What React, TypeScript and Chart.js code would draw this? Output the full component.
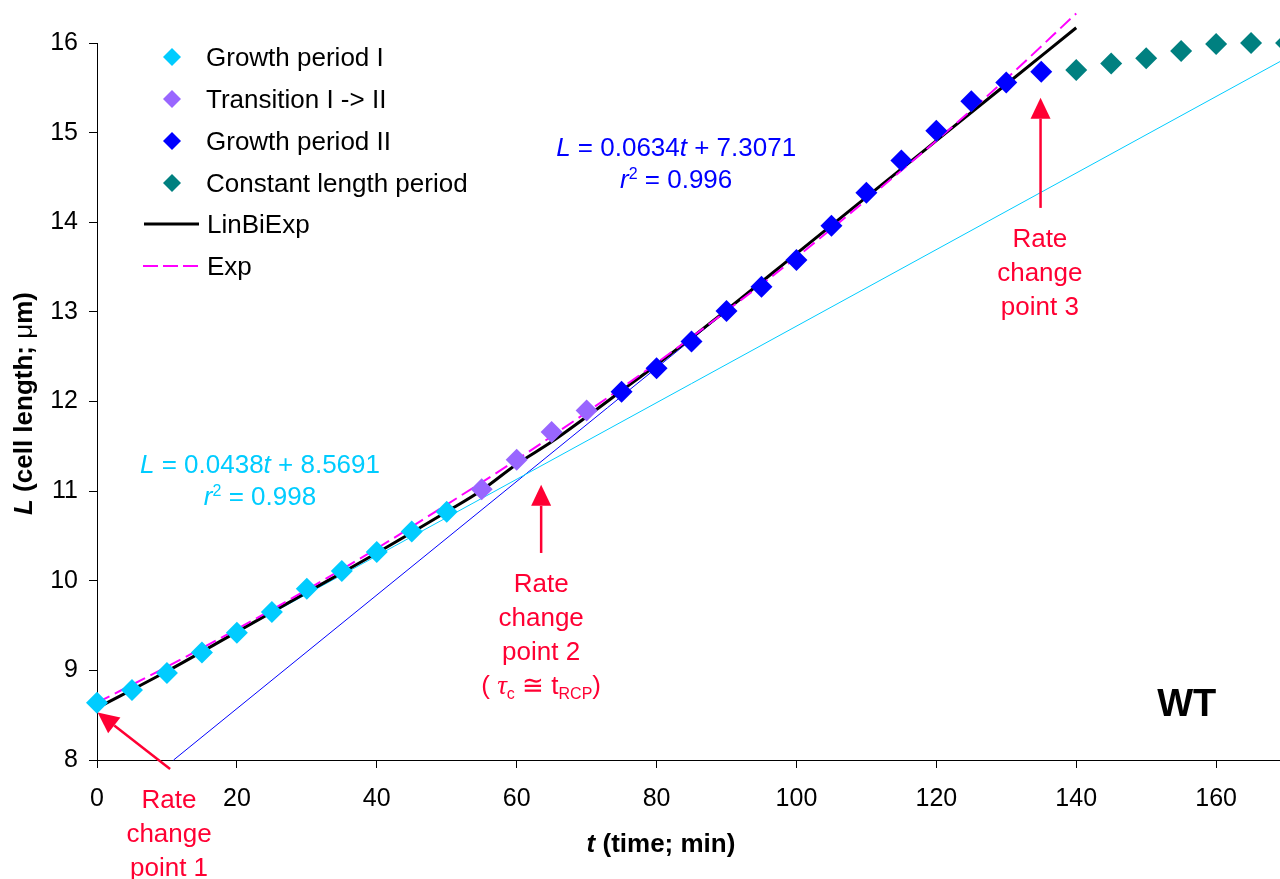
import React, { useEffect, useRef } from 'react';
import { Chart, registerables } from 'chart.js';

Chart.register(...registerables);

// ---- data ----
const growth1T = [0, 5, 10, 15, 20, 25, 30, 35, 40, 45, 50];
const growth1L = [8.64, 8.78, 8.97, 9.2, 9.42, 9.65, 9.91, 10.11, 10.32, 10.55, 10.77];
const transT = [55, 60, 65, 70];
const transL = [11.02, 11.35, 11.66, 11.9];
const growth2T = [75, 80, 85, 90, 95, 100, 105, 110, 115, 120, 125, 130, 135];
const growth2L = [12.11, 12.37, 12.67, 13.01, 13.28, 13.58, 13.96, 14.33, 14.69, 15.02, 15.35, 15.56, 15.68];
const constT = [140, 145, 150, 155, 160, 165, 170];
const constL = [15.7, 15.77, 15.83, 15.91, 15.99, 16.0, 16.0];

const linBiExpT = [0, 10, 20, 30, 40, 50, 55, 60, 65, 70, 75, 80, 90, 100, 110, 120, 130, 140];
const linBiExpL = [8.58, 8.99, 9.43, 9.87, 10.31, 10.77, 11.01, 11.3, 11.55, 11.83, 12.12, 12.41, 13.02, 13.65, 14.28, 14.91, 15.54, 16.17];
const expT = [0, 10, 20, 30, 40, 50, 60, 70, 80, 90, 100, 110, 120, 130, 140];
const expL = [8.64, 9.04, 9.46, 9.9, 10.36, 10.85, 11.35, 11.88, 12.43, 13.01, 13.61, 14.25, 14.91, 15.6, 16.33];

const trend1T = [0, 170];
const trend1L = [8.57, 15.83];
const trend2T = [10.95, 135];
const trend2L = [8.0, 15.86];

const xTicks = [0, 20, 40, 60, 80, 100, 120, 140, 160];
const seriesNames = ['Growth period I', 'Transition I -> II', 'Growth period II', 'Constant length period', 'LinBiExp', 'Exp'];

// ---- styles ----
const FONT = '"Liberation Sans", Arial, Helvetica, sans-serif';
const SERIF = '"Liberation Serif", "DejaVu Serif", serif';
const CYAN = '#00CCFF';
const PURPLE = '#9966FF';
const BLUE = '#0000FF';
const TEAL = '#008080';
const MAGENTA = '#FF00FF';
const RED = '#FF0033';

type Seg = { t: string; f: string; dy?: number };

function drawRich(ctx: CanvasRenderingContext2D, segs: Seg[], x: number, y: number, align: 'left' | 'center', color: string) {
  ctx.fillStyle = color;
  ctx.textBaseline = 'alphabetic';
  ctx.textAlign = 'left';
  let w = 0;
  for (const s of segs) {
    ctx.font = s.f;
    w += ctx.measureText(s.t).width;
  }
  let cx = align === 'center' ? x - w / 2 : x;
  for (const s of segs) {
    ctx.font = s.f;
    ctx.fillText(s.t, cx, y + (s.dy || 0));
    cx += ctx.measureText(s.t).width;
  }
}

function drawArrow(ctx: CanvasRenderingContext2D, x1: number, y1: number, x2: number, y2: number, color: string) {
  const ang = Math.atan2(y2 - y1, x2 - x1);
  const headLen = 21;
  const headW = 10;
  const bx = x2 - headLen * Math.cos(ang);
  const by = y2 - headLen * Math.sin(ang);
  ctx.strokeStyle = color;
  ctx.lineWidth = 2.5;
  ctx.beginPath();
  ctx.moveTo(x1, y1);
  ctx.lineTo(bx, by);
  ctx.stroke();
  ctx.fillStyle = color;
  ctx.beginPath();
  ctx.moveTo(x2, y2);
  ctx.lineTo(bx + headW * Math.sin(ang), by - headW * Math.cos(ang));
  ctx.lineTo(bx - headW * Math.sin(ang), by + headW * Math.cos(ang));
  ctx.closePath();
  ctx.fill();
}

function diamond(ctx: CanvasRenderingContext2D, x: number, y: number, r: number, color: string) {
  ctx.fillStyle = color;
  ctx.beginPath();
  ctx.moveTo(x - r, y);
  ctx.lineTo(x, y - r);
  ctx.lineTo(x + r, y);
  ctx.lineTo(x, y + r);
  ctx.closePath();
  ctx.fill();
}

const pts = (ts: number[], ls: number[]) => ts.map((t, i) => ({ x: t, y: ls[i] }));

const overlayPlugin = {
  id: 'overlay',
  afterDraw(chart: any) {
    const ctx: CanvasRenderingContext2D = chart.ctx;
    const xs = chart.scales.x;
    const ys = chart.scales.y;
    const X = (v: number) => xs.getPixelForValue(v);
    const Y = (v: number) => ys.getPixelForValue(v);
    const n = `26px ${FONT}`;
    const it = `italic 26px ${FONT}`;
    const sm = `16px ${FONT}`;
    const b = `bold 26px ${FONT}`;
    const bi = `italic bold 26px ${FONT}`;
    ctx.save();

    // legend
    const legendColors = [CYAN, PURPLE, BLUE, TEAL];
    const rows = [57, 99, 141, 183, 224, 266];
    for (let i = 0; i < 4; i++) {
      diamond(ctx, 172, rows[i], 9, legendColors[i]);
    }
    ctx.strokeStyle = '#000';
    ctx.lineWidth = 3;
    ctx.setLineDash([]);
    ctx.beginPath();
    ctx.moveTo(144, rows[4]);
    ctx.lineTo(199, rows[4]);
    ctx.stroke();
    ctx.strokeStyle = MAGENTA;
    ctx.lineWidth = 2;
    ctx.setLineDash([15, 5]);
    ctx.beginPath();
    ctx.moveTo(143, rows[5]);
    ctx.lineTo(200, rows[5]);
    ctx.stroke();
    ctx.setLineDash([]);
    for (let i = 0; i < 6; i++) {
      drawRich(ctx, [{ t: seriesNames[i], f: n }], i < 4 ? 206 : 207, rows[i] + 9, 'left', '#000');
    }

    // regression equations
    drawRich(ctx, [
      { t: 'L', f: it }, { t: ' = 0.0438', f: n }, { t: 't', f: it }, { t: ' + 8.5691', f: n },
    ], X(23.3), 473, 'center', CYAN);
    drawRich(ctx, [
      { t: 'r', f: it }, { t: '2', f: sm, dy: -9 }, { t: ' = 0.998', f: n },
    ], X(23.3), 505, 'center', CYAN);
    drawRich(ctx, [
      { t: 'L', f: it }, { t: ' = 0.0634', f: n }, { t: 't', f: it }, { t: ' + 7.3071', f: n },
    ], X(82.8), 156, 'center', BLUE);
    drawRich(ctx, [
      { t: 'r', f: it }, { t: '2', f: sm, dy: -9 }, { t: ' = 0.996', f: n },
    ], X(82.8), 188, 'center', BLUE);

    // rate change point arrows
    drawArrow(ctx, X(10.45), Y(7.9), X(0.1), Y(8.53), RED);
    drawArrow(ctx, X(63.5), Y(10.31), X(63.5), Y(11.07), RED);
    drawArrow(ctx, X(134.9), Y(14.16), X(134.9), Y(15.39), RED);

    // rate change point labels
    const l1 = X(10.3);
    drawRich(ctx, [{ t: 'Rate', f: n }], l1, 808, 'center', RED);
    drawRich(ctx, [{ t: 'change', f: n }], l1, 842, 'center', RED);
    drawRich(ctx, [{ t: 'point 1', f: n }], l1, 876, 'center', RED);
    const l2 = X(63.5);
    drawRich(ctx, [{ t: 'Rate', f: n }], l2, 592, 'center', RED);
    drawRich(ctx, [{ t: 'change', f: n }], l2, 626, 'center', RED);
    drawRich(ctx, [{ t: 'point 2', f: n }], l2, 660, 'center', RED);
    drawRich(ctx, [
      { t: '( ', f: n }, { t: '\u03C4', f: `italic 27px ${SERIF}` }, { t: 'c', f: sm, dy: 5 },
      { t: ' \u2245 ', f: n }, { t: 't', f: n }, { t: 'RCP', f: sm, dy: 5 }, { t: ')', f: n },
    ], l2, 694, 'center', RED);
    const l3 = X(134.8);
    drawRich(ctx, [{ t: 'Rate', f: n }], l3, 247, 'center', RED);
    drawRich(ctx, [{ t: 'change', f: n }], l3, 281, 'center', RED);
    drawRich(ctx, [{ t: 'point 3', f: n }], l3, 315, 'center', RED);

    // WT
    drawRich(ctx, [{ t: 'WT', f: `bold 38px ${FONT}` }], X(155.8), 716, 'center', '#000');

    // axis titles
    drawRich(ctx, [{ t: 't', f: bi }, { t: ' (time; min)', f: b }], 661, 852, 'center', '#000');
    ctx.save();
    ctx.translate(32, (chart.chartArea.top + chart.chartArea.bottom) / 2 + 2);
    ctx.rotate(-Math.PI / 2);
    drawRich(ctx, [
      { t: 'L', f: bi }, { t: ' (cell length; ', f: b }, { t: '\u03BC', f: n }, { t: 'm)', f: b },
    ], 0, 0, 'center', '#000');
    ctx.restore();

    ctx.restore();
  },
};

export default function App() {
  const ref = useRef<HTMLCanvasElement>(null);
  useEffect(() => {
    const canvas = ref.current;
    if (!canvas) return;
    const scatter = (label: string, ts: number[], ls: number[], color: string) => ({
      label,
      data: pts(ts, ls),
      showLine: false,
      pointStyle: 'rectRot',
      pointRadius: 11,
      pointBorderWidth: 0,
      pointBackgroundColor: color,
      pointBorderColor: color,
      backgroundColor: color,
      borderColor: color,
      clip: false,
      order: 0,
    });
    const line = (label: string, ts: number[], ls: number[], color: string, width: number, dash: number[], order: number, smooth: boolean) => ({
      label,
      data: pts(ts, ls),
      showLine: true,
      borderColor: color,
      backgroundColor: color,
      borderWidth: width,
      borderDash: dash,
      pointRadius: 0,
      cubicInterpolationMode: smooth ? 'monotone' : 'default',
      tension: 0,
      clip: false,
      order,
    });
    const chart = new Chart(canvas, {
      type: 'scatter',
      data: {
        datasets: [
          scatter(seriesNames[0], growth1T, growth1L, CYAN),
          scatter(seriesNames[1], transT, transL, PURPLE),
          scatter(seriesNames[2], growth2T, growth2L, BLUE),
          scatter(seriesNames[3], constT, constL, TEAL),
          line('Exp', expT, expL, MAGENTA, 2, [14, 6], 1, true),
          line('LinBiExp', linBiExpT, linBiExpL, '#000', 3, [], 2, true),
          line('trend I', trend1T, trend1L, CYAN, 1, [], 3, false),
          line('trend II', trend2T, trend2L, BLUE, 1, [], 3, false),
        ] as any,
      },
      options: {
        responsive: false,
        animation: false,
        devicePixelRatio: 1,
        layout: { padding: { top: 43, right: 5, left: 0, bottom: 0 } },
        plugins: { legend: { display: false }, tooltip: { enabled: false } },
        scales: {
          x: {
            type: 'linear',
            min: 0,
            max: 180,
            afterFit: (s: any) => { s.height = 119; },
            afterBuildTicks: (s: any) => { s.ticks = xTicks.map((v) => ({ value: v })); },
            ticks: { font: { family: FONT, size: 25 }, color: '#000', padding: 16, maxRotation: 0 },
            grid: { drawOnChartArea: false, color: '#000', tickLength: 8, tickWidth: 1 },
            border: { color: '#000', width: 1 },
          },
          y: {
            type: 'linear',
            min: 8,
            max: 16,
            afterFit: (s: any) => { s.width = 97; },
            ticks: { stepSize: 1, font: { family: FONT, size: 25 }, color: '#000', padding: 11 },
            grid: { drawOnChartArea: false, color: '#000', tickLength: 8, tickWidth: 1 },
            border: { color: '#000', width: 1 },
          },
        },
      } as any,
      plugins: [overlayPlugin],
    });
    return () => chart.destroy();
  }, []);
  return (
    <div style={{ position: 'fixed', left: 0, top: 0, width: 1280, height: 879, overflow: 'hidden', background: '#fff' }}>
      <canvas ref={ref} width={1367} height={879} style={{ display: 'block', width: 1367, height: 879 }} />
    </div>
  );
}
